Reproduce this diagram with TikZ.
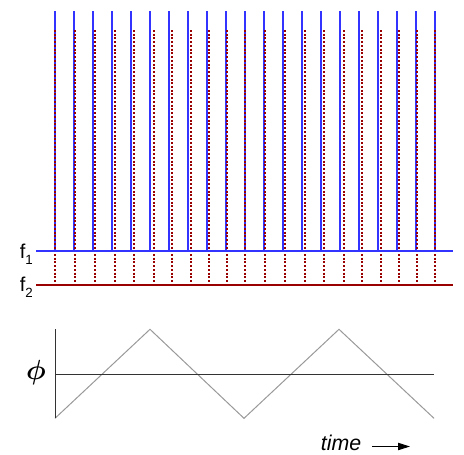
\documentclass[tikz,border=0pt]{standalone}
\usepackage{bm}
\usepackage{fontspec}
\setmainfont{Liberation Sans}
\usetikzlibrary{arrows.meta}
\definecolor{combblue}{HTML}{3333FF}
\definecolor{combred}{HTML}{990000}
\newcommand{\fsub}[1]{f\raisebox{-4.5pt}{\fontsize{10}{10}\selectfont #1}}
\tikzset{
  blueline/.style={combblue, line width=1.5pt},
  redline/.style={combred, line width=1.5pt},
  reddots/.style={combred, line width=1.5pt, dash pattern=on 1.5pt off 1.3pt},
  phaseaxis/.style={black!80, line width=0.75pt},
  phasecurve/.style={black!40, line width=0.75pt},
  flabel/.style={font=\fontsize{15}{16}\selectfont, inner sep=0pt, anchor=base east}
}

\begin{document}
\begin{tikzpicture}[x=0.75pt,y=-0.75pt]
  \useasboundingbox (0,0) rectangle (464,454);

  % comb lines, f1 fixed and f2 shifted by the phase
  \foreach \k in {0,...,20}{
    \pgfmathsetmacro\tri{5-abs(mod(\k,10)-5)}
    \pgfmathsetmacro\xb{55+19*\k}
    \pgfmathsetmacro\xr{\xb+0.85*\tri}
    \draw[blueline] (\xb,11) -- (\xb,250.5);
    \draw[reddots] (\xr,30) -- (\xr,284.5);
  }
  \draw[blueline] (36,250.5) -- (453,250.5);
  \draw[redline] (36,284.5) -- (453,284.5);
  \node[flabel] (fone) at (33,258) {\fsub{1}};
  \node[flabel] (ftwo) at (33,291) {\fsub{2}};

  % phase plot
  \draw[phasecurve] (55,418.3) -- (150,329.3) -- (244,418.3) -- (339,329.3) -- (434,418.3);
  \draw[phaseaxis] (55,329.3) -- (55,418.3);
  \draw[phaseaxis] (55,374.3) -- (434,374.3);
  \node (philabel) at (36,373) {\fontsize{22}{26}\selectfont$\bm{\phi}$};

  \node[inner sep=0pt, anchor=base, font=\fontsize{16}{18}\selectfont\itshape] (timelabel) at (341,450) {time};
  \coordinate (timeend) at (410,446.5);
  \draw[line width=0.75pt, -{Triangle[length=9pt,width=5.5pt]}] ([xshift=8pt]timelabel.east |- timeend) -- (timeend);
\end{tikzpicture}
\end{document}
